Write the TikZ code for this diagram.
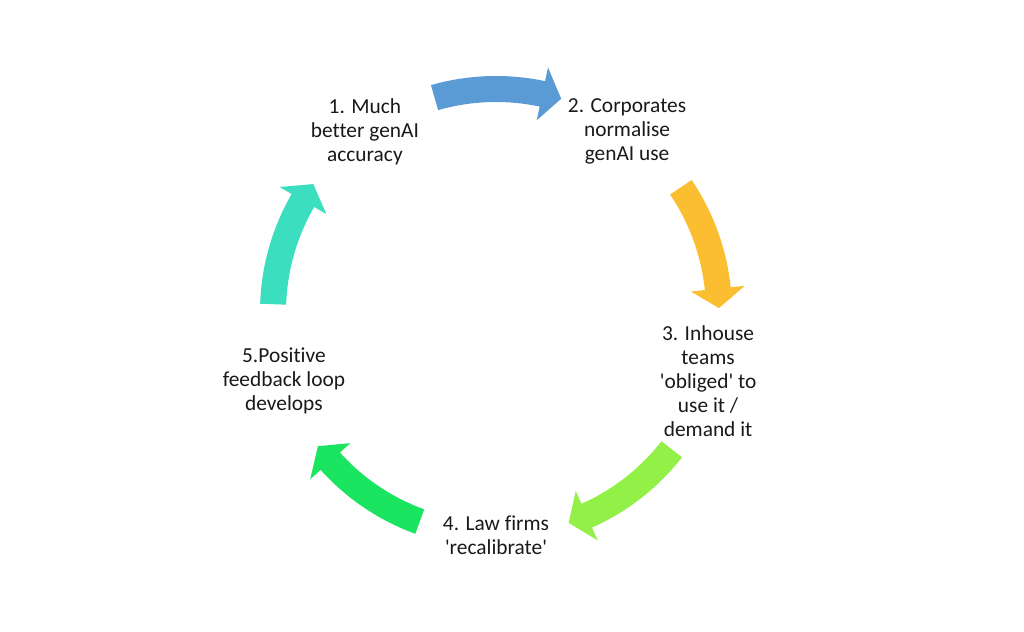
\documentclass[tikz,border=0pt]{standalone}
\usepackage{fontspec}
\setmainfont{Carlito}[Ligatures={TeXOff,CommonOff}]
\usepackage{tikz}

\definecolor{cycblue}{RGB}{91,155,213}
\definecolor{cycyellow}{RGB}{251,190,48}
\definecolor{cyclime}{RGB}{146,240,70}
\definecolor{cycgreen}{RGB}{26,228,96}
\definecolor{cycteal}{RGB}{60,222,192}

\begin{document}
\begin{tikzpicture}[x=0.025cm, y=0.025cm,
	stage/.style={align=center, text=black!90, font=\fontsize{15.2}{17}\selectfont},
	cycarrow/.style={draw=none}
	]

\useasboundingbox (0,0) rectangle (1024,631);
\coordinate (c) at (496,319);

\begin{scope}[shift={(c)}]
% stages round the cycle
\node[stage] (s1) at (126:223) {1. Much\\better genAI\\accuracy};
\node[stage] (s2) at (54:223) {2. Corporates\\normalise\\genAI use};
\node[stage] (s3) at (-18:223) {3. Inhouse\\teams\\'obliged' to\\use it /\\demand it};
\node[stage] (s4) at (-90:223) {4. Law firms\\'recalibrate'};
\node[stage] (s5) at (198:223) {5.Positive\\feedback loop\\develops};

% curved block arrows between the stages
\foreach \m/\col in {90/cycblue, 18/cycyellow, -54/cyclime, -126/cycgreen, 162/cycteal}
    \fill[cycarrow, \col] (\m+16:236) arc[start angle=\m+16, end angle=\m-12, radius=236]
        -- (\m-12:250) -- (\m-17:223) -- (\m-12:196) -- (\m-12:210)
        arc[start angle=\m-12, end angle=\m+16, radius=210] -- cycle;
\end{scope}

\end{tikzpicture}
\end{document}
